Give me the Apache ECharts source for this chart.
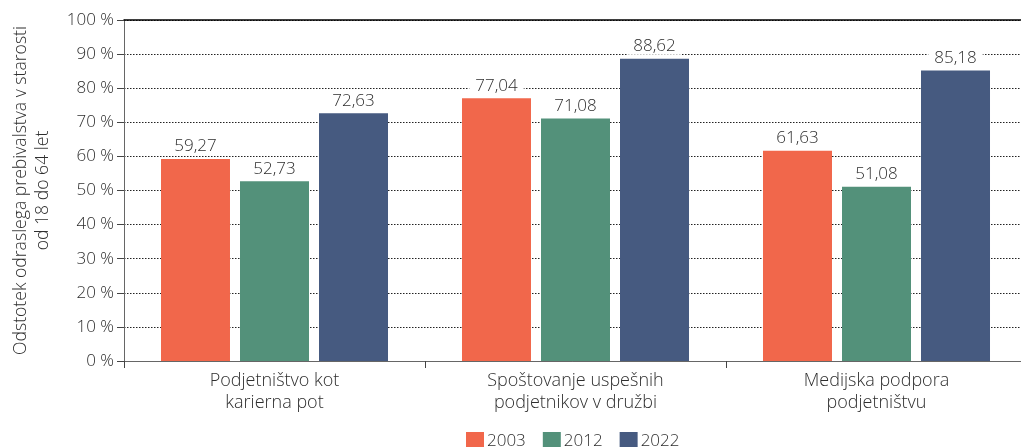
<!DOCTYPE html>
<html>
<head>
<meta charset="utf-8">
<script src="https://cdn.jsdelivr.net/npm/echarts@6/dist/echarts.min.js"></script>
<style>
  html, body { margin: 0; padding: 0; background: #fff; }
  #chart { width: 1021px; height: 447px; }
</style>
</head>
<body>
<div id="chart"></div>
<script>
const categories = ['Podjetništvo kot\nkarierna pot', 'Spoštovanje uspešnih\npodjetnikov v družbi', 'Medijska podpora\npodjetništvu'];
const years = ['2003', '2012', '2022'];
const values2003 = [59.27, 77.04, 61.63];
const values2012 = [52.73, 71.08, 51.08];
const values2022 = [72.63, 88.62, 85.18];
const yTicks = [0, 10, 20, 30, 40, 50, 60, 70, 80, 90, 100];
const colors = ['#F1674B', '#53917A', '#465A80'];

const FONT = 'Open Sans';
const WEIGHT = 300;
const TEXT = '#2e2e2e';

const chart = echarts.init(document.getElementById('chart'));

const fmt = v => v.toFixed(2).replace('.', ',');

function barSeries(name, data, color) {
    return {
        name: name,
        type: 'bar',
        data: data,
        barWidth: 69,
        barGap: '14.5%',
        itemStyle: { color: color },
        label: {
            show: true,
            position: 'top',
            distance: 4,
            formatter: p => fmt(p.value),
            fontFamily: FONT,
            fontWeight: WEIGHT,
            fontSize: 17,
            color: TEXT,
            backgroundColor: '#fff',
            padding: [0, 6, 0, 6]
        }
    };
}

chart.setOption({
    animation: false,
    textStyle: { fontFamily: FONT },
    grid: { left: 124, right: -6, top: 20, bottom: 86, outerBoundsMode: 'none' },
    legend: {
        data: years,
        bottom: -3,
        left: 466,
        padding: 0,
        itemWidth: 18,
        itemHeight: 18,
        itemGap: 17,
        icon: 'rect',
        textStyle: { fontFamily: FONT, fontWeight: WEIGHT, fontSize: 17, color: TEXT, padding: [0, 0, 0, -2] }
    },
    xAxis: [{
        type: 'category',
        data: categories,
        axisLine: { lineStyle: { color: '#666', width: 1 } },
        axisTick: { show: true, length: 7, lineStyle: { color: '#444' } },
        axisLabel: {
            fontFamily: FONT,
            fontWeight: WEIGHT,
            fontSize: 18,
            color: TEXT,
            lineHeight: 22,
            margin: 9
        }
    }, {
        type: 'category',
        data: categories,
        position: 'top',
        axisLine: { show: true, lineStyle: { color: '#000', width: 1.5 } },
        axisTick: { show: false },
        axisLabel: { show: false }
    }],
    yAxis: {
        type: 'value',
        min: 0,
        max: 100,
        interval: 10,
        name: 'Odstotek odraslega prebivalstva v starosti\nod 18 do 64 let',
        nameLocation: 'middle',
        nameGap: 70,
        nameRotate: 90,
        nameTextStyle: { fontFamily: FONT, fontWeight: WEIGHT, fontSize: 17.6, color: TEXT, lineHeight: 22 },
        axisLine: { show: true, lineStyle: { color: '#666' } },
        axisTick: { show: true, length: 7, lineStyle: { color: '#444' } },
        axisLabel: {
            fontFamily: FONT,
            fontWeight: WEIGHT,
            fontSize: 17,
            color: TEXT,
            margin: 10,
            formatter: v => yTicks.includes(v) ? v + ' %' : ''
        },
        splitLine: { show: true, lineStyle: { color: '#222', type: [1.5, 1.5], width: 1 } }
    },
    series: [
        barSeries(years[0], values2003, colors[0]),
        barSeries(years[1], values2012, colors[1]),
        barSeries(years[2], values2022, colors[2])
    ]
});
</script>
</body>
</html>
